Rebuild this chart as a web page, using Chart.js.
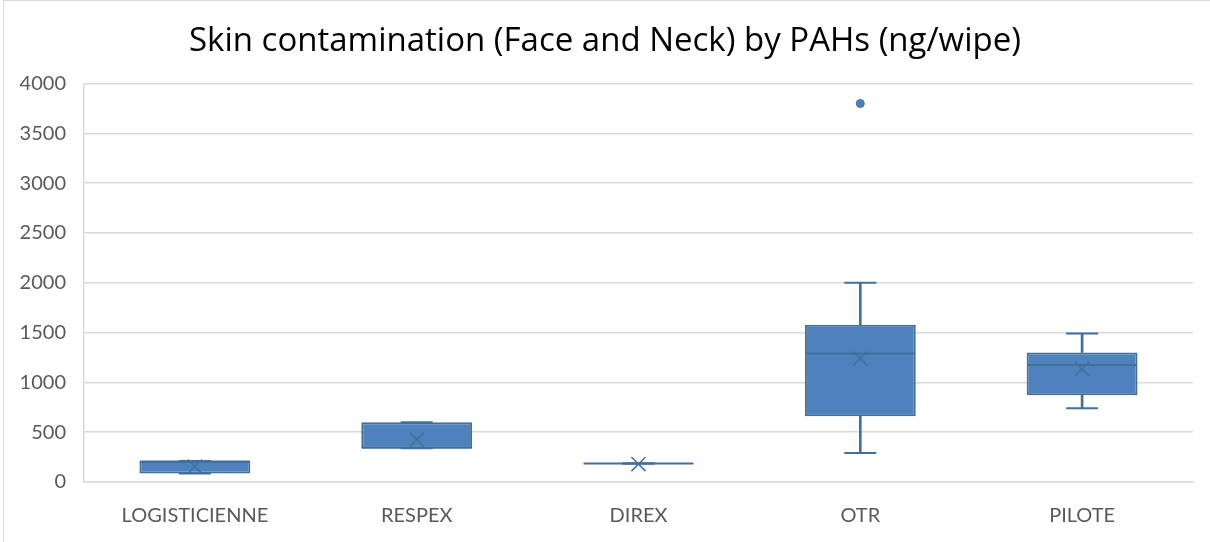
<!DOCTYPE html>
<html>
<head>
<meta charset="utf-8">
<script src="https://cdn.jsdelivr.net/npm/chart.js@4.4.1/dist/chart.umd.min.js"></script>
<style>
  html, body { margin: 0; padding: 0; background: #fff; }
  #wrap { position: relative; width: 1210px; height: 542px; }
  #frame { position: absolute; left: 3px; top: 0; width: 1207px; height: 542px; border-left: 1px solid #d9d9d9; border-top: 1px solid #d9d9d9; box-sizing: border-box; pointer-events: none; }
  canvas { display: block; }
</style>
</head>
<body>
<div id="wrap">
  <canvas id="c" width="1210" height="542"></canvas>
  <div id="frame"></div>
</div>
<script>
const categories = ['LOGISTICIENNE', 'RESPEX', 'DIREX', 'OTR', 'PILOTE'];
const whiskerMin = [85, 340, 185, 290, 740];
const q1Values   = [85, 340, 185, 660, 870];
const medians    = [207, 345, 185, 1290, 1175];
const q3Values   = [210, 600, 185, 1580, 1300];
const whiskerMax = [210, 600, 185, 2000, 1490];
const means      = [155, 425, 180, 1240, 1135];
const outliers   = [null, null, null, 3800, null];
const yTicks     = [0, 500, 1000, 1500, 2000, 2500, 3000, 3500, 4000];

const FILL = '#4f81bd';
const EDGE = '#41709c';
const FONT = 'Lato';

const boxData = categories.map((_, i) => [q1Values[i], q3Values[i]]);
const lowWhisker = categories.map((_, i) => [whiskerMin[i], q1Values[i]]);
const highWhisker = categories.map((_, i) => [q3Values[i], whiskerMax[i]]);

const pointLayer = (data, extra) => Object.assign({
  type: 'line', data, showLine: false, pointHoverRadius: 0
}, extra);

new Chart(document.getElementById('c'), {
  type: 'bar',
  data: {
    labels: categories,
    datasets: [
      { data: lowWhisker, grouped: false, barThickness: 2, backgroundColor: EDGE, borderWidth: 0, order: 5 },
      { data: highWhisker, grouped: false, barThickness: 2, backgroundColor: EDGE, borderWidth: 0, order: 5 },
      { data: boxData, grouped: false, backgroundColor: FILL, borderColor: EDGE, borderWidth: 2, borderSkipped: false,
        categoryPercentage: 1, barPercentage: 0.5, order: 4 },
      pointLayer(whiskerMin, { pointStyle: 'line', pointRadius: 16, borderColor: EDGE, borderWidth: 2, order: 3 }),
      pointLayer(whiskerMax, { pointStyle: 'line', pointRadius: 16, borderColor: EDGE, borderWidth: 2, order: 3 }),
      pointLayer(medians, { pointStyle: 'line', pointRadius: 55, borderColor: EDGE, borderWidth: 2, order: 2 }),
      pointLayer(means, { pointStyle: 'crossRot', pointRadius: 10, borderColor: EDGE, borderWidth: 1.5, backgroundColor: 'transparent', order: 1 }),
      pointLayer(outliers, { pointStyle: 'circle', pointRadius: 4, backgroundColor: FILL, borderColor: EDGE, borderWidth: 1, order: 0 })
    ]
  },
  options: {
    responsive: false,
    animation: false,
    events: [],
    layout: { autoPadding: false, padding: 0 },
    plugins: {
      legend: { display: false },
      tooltip: { enabled: false },
      title: {
        display: true,
        text: 'Skin contamination (Face and Neck) by PAHs (ng/wipe)',
        color: '#000000',
        font: { family: 'Open Sans', size: 33, weight: 'normal' },
        padding: { top: 22, bottom: 22 }
      }
    },
    scales: {
      x: {
        offset: true,
        grid: { display: false, drawTicks: false },
        border: { display: true, color: '#d9d9d9', width: 1.5 },
        ticks: { color: '#595959', font: { family: FONT, size: 20 }, padding: 22 },
        afterFit: s => { s.height = 60; s.paddingLeft = 0; s.paddingRight = 17; }
      },
      y: {
        min: 0, max: 4000,
        afterBuildTicks: s => { s.ticks = yTicks.map(v => ({ value: v })); },
        grid: { color: '#d9d9d9', lineWidth: 1.5, drawTicks: false },
        border: { display: true, color: '#d9d9d9', width: 1.5 },
        ticks: { color: '#595959', font: { family: FONT, size: 20 }, padding: 18, callback: v => String(v) },
        afterFit: s => { s.width = 84; }
      }
    }
  }
});
</script>
</body>
</html>
